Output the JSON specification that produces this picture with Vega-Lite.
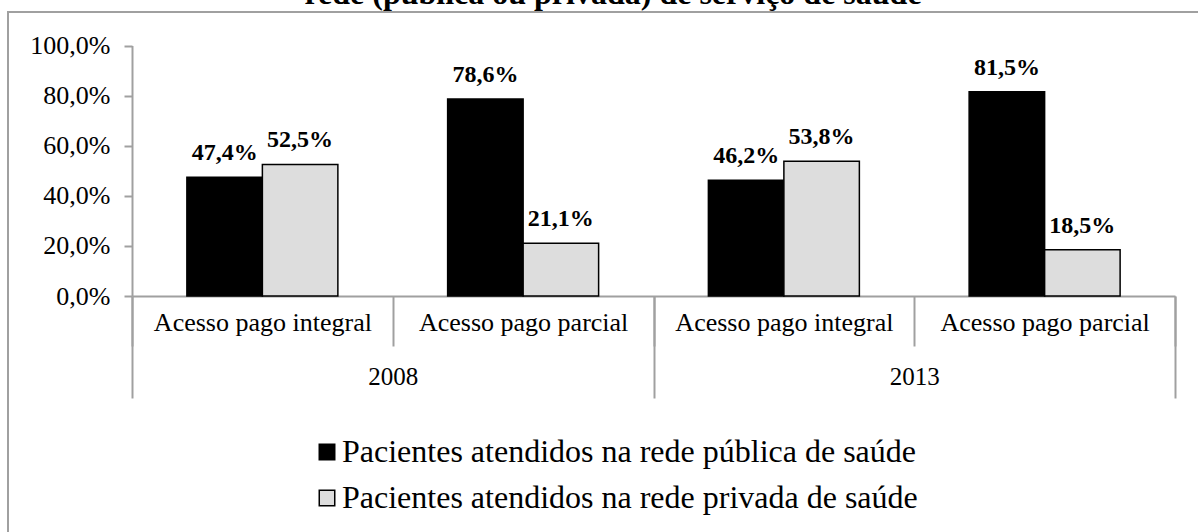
{
  "$schema": "https://vega.github.io/schema/vega-lite/v6.json",
  "autosize": {"type": "none"},
  "width": 1196,
  "height": 526,
  "padding": {"left": 8, "top": 12, "right": -6, "bottom": -6},
  "background": "white",
  "title": {
    "text": "rede (pública ou privada) de serviço de saúde",
    "font": "Liberation Serif",
    "fontSize": 32,
    "fontWeight": "bold",
    "color": "#000000",
    "anchor": "middle",
    "frame": "group",
    "baseline": "alphabetic",
    "offset": -24,
    "dx": 7
  },
  "config": {
    "locale": {
      "number": {"decimal": ",", "thousands": ".", "grouping": [3], "currency": ["R$", ""]}
    },
    "view": {"stroke": "#a0a0a0", "strokeWidth": 2},
    "axis": {
      "labelFont": "Liberation Serif",
      "labelColor": "#000000",
      "domainColor": "#a0a0a0",
      "domainWidth": 2,
      "tickColor": "#a0a0a0",
      "tickWidth": 2,
      "grid": false,
      "title": null,
      "labelLimit": 500
    }
  },
  "data": {
    "values": [
      {"ano": "2008", "grupo": "2008 Acesso pago integral", "rede": "Pacientes atendidos na rede pública de saúde", "valor": 0.474},
      {"ano": "2008", "grupo": "2008 Acesso pago integral", "rede": "Pacientes atendidos na rede privada de saúde", "valor": 0.525},
      {"ano": "2008", "grupo": "2008 Acesso pago parcial", "rede": "Pacientes atendidos na rede pública de saúde", "valor": 0.786},
      {"ano": "2008", "grupo": "2008 Acesso pago parcial", "rede": "Pacientes atendidos na rede privada de saúde", "valor": 0.211},
      {"ano": "2013", "grupo": "2013 Acesso pago integral", "rede": "Pacientes atendidos na rede pública de saúde", "valor": 0.462},
      {"ano": "2013", "grupo": "2013 Acesso pago integral", "rede": "Pacientes atendidos na rede privada de saúde", "valor": 0.538},
      {"ano": "2013", "grupo": "2013 Acesso pago parcial", "rede": "Pacientes atendidos na rede pública de saúde", "valor": 0.815},
      {"ano": "2013", "grupo": "2013 Acesso pago parcial", "rede": "Pacientes atendidos na rede privada de saúde", "valor": 0.185}
    ]
  },
  "layer": [
    {
      "mark": {"type": "bar", "stroke": "#000000", "strokeWidth": 1.5},
      "encoding": {
        "x": {
          "field": "grupo", "type": "nominal",
          "scale": {"range": [124, 1167], "paddingInner": 0, "paddingOuter": 0},
          "axis": {
            "orient": "bottom", "offset": -242, "tickBand": "extent", "tickSize": 50,
            "labelExpr": "slice(datum.label, 5)", "labelFontSize": 26, "labelPadding": -37,
            "labelAngle": 0
          }
        },
        "xOffset": {
          "field": "rede", "type": "nominal",
          "sort": ["Pacientes atendidos na rede pública de saúde", "Pacientes atendidos na rede privada de saúde"],
          "scale": {"paddingInner": 0, "paddingOuter": 0.727}
        },
        "y": {
          "field": "valor", "type": "quantitative",
          "scale": {"domain": [0, 1], "range": [284, 33.5], "nice": false},
          "axis": {
            "orient": "left", "offset": -124, "values": [0, 0.2, 0.4, 0.6, 0.8, 1],
            "format": ".1%", "tickSize": 8, "labelPadding": 14, "labelFontSize": 26
          }
        },
        "color": {
          "field": "rede", "type": "nominal",
          "scale": {
            "domain": ["Pacientes atendidos na rede pública de saúde", "Pacientes atendidos na rede privada de saúde"],
            "range": ["#000000", "#dddddd"]
          },
          "legend": {
            "orient": "none", "legendX": 303, "legendY": 424, "title": null,
            "direction": "vertical", "padding": 0,
            "symbolType": "square", "symbolSize": 240, "symbolStrokeColor": "#000000",
            "symbolStrokeWidth": 1.5, "symbolOpacity": 1,
            "labelFont": "Liberation Serif", "labelFontSize": 32, "labelColor": "#000000",
            "labelOffset": -1, "rowPadding": 14, "labelLimit": 1000
          }
        }
      }
    },
    {
      "mark": {
        "type": "text", "font": "Liberation Serif", "fontSize": 24, "fontWeight": "bold",
        "baseline": "alphabetic", "align": "center", "dy": -17, "color": "#000000"
      },
      "encoding": {
        "x": {
          "field": "grupo", "type": "nominal",
          "scale": {"range": [124, 1167], "paddingInner": 0, "paddingOuter": 0},
          "axis": null
        },
        "xOffset": {
          "field": "rede", "type": "nominal",
          "sort": ["Pacientes atendidos na rede pública de saúde", "Pacientes atendidos na rede privada de saúde"],
          "scale": {"paddingInner": 0, "paddingOuter": 0.727}
        },
        "y": {"field": "valor", "type": "quantitative"},
        "text": {"field": "valor", "type": "quantitative", "format": ".1%"}
      }
    },
    {
      "mark": {"type": "text", "text": ""},
      "encoding": {
        "x": {
          "field": "ano", "type": "nominal",
          "scale": {"range": [124, 1167], "paddingInner": 0, "paddingOuter": 0},
          "axis": {
            "orient": "bottom", "offset": -242, "tickBand": "extent", "tickSize": 102,
            "domain": false, "labelFontSize": 25, "labelPadding": -34, "labelAngle": 0
          }
        }
      }
    }
  ],
  "resolve": {"scale": {"x": "independent"}, "axis": {"x": "independent"}}
}
